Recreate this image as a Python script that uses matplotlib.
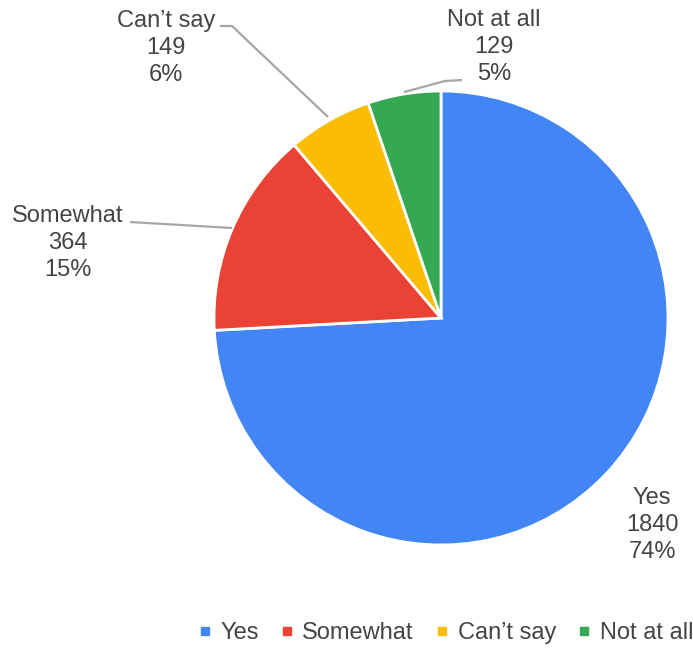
import matplotlib.pyplot as plt
from matplotlib.lines import Line2D

labels = ["Yes", "Somewhat", "Can\u2019t say", "Not at all"]
counts = [1840, 364, 149, 129]
colors = ["#4285F4", "#EA4335", "#FBBC04", "#34A853"]

plt.rcParams['font.family'] = ['Liberation Sans', 'DejaVu Sans']
txt_color = "#444444"

W, H = 693, 651
fig = plt.figure(figsize=(W / 100, H / 100), dpi=100)

cx, cy, r = 441, 318, 227
ax = fig.add_axes([(cx - r) / W, (H - cy - r) / H, 2 * r / W, 2 * r / H])
ax.pie(counts, colors=colors, startangle=90, counterclock=False, radius=1,
       wedgeprops=dict(edgecolor="white", linewidth=2))
ax.set_xlim(-1, 1)
ax.set_ylim(-1, 1)
ax.set_aspect("equal")
ax.axis("off")


def px(x, y):
    return (x - cx) / r, (cy - y) / r


total = sum(counts)
# label centre positions in pixels (middle line)
label_pos = [(652, 525), (68, 243), (166, 48), (494, 47)]
for lab, c, (x, y) in zip(labels, counts, label_pos):
    pct = round(100 * c / total)
    dx, dy = px(x, y)
    ax.text(dx, dy, f"{lab}\n{c}\n{pct}%", ha="center", va="center",
            fontsize=17, color=txt_color, linespacing=1.3, clip_on=False)

# leader lines
leaders = [
    [(130, 222), (232, 228)],
    [(220, 26), (232, 26), (328, 117)],
    [(462, 80), (445, 81), (404, 92)],
]
for pts in leaders:
    xs, ys = zip(*[px(x, y) for x, y in pts])
    ax.plot(xs, ys, color="#a6a6a6", lw=1.6, clip_on=False, solid_capstyle="butt")

handles = [Line2D([], [], marker="s", linestyle="none", markersize=6,
                  markerfacecolor=c, markeredgecolor=c) for c in colors]
fig.legend(handles, labels, loc="center", bbox_to_anchor=(446 / W, 1 - 633 / H),
           ncol=4, frameon=False, fontsize=17, handlelength=0.5,
           handletextpad=0.4, columnspacing=0.95, labelcolor=txt_color,
           borderpad=0, borderaxespad=0)

fig.savefig("out.png", dpi=100)
